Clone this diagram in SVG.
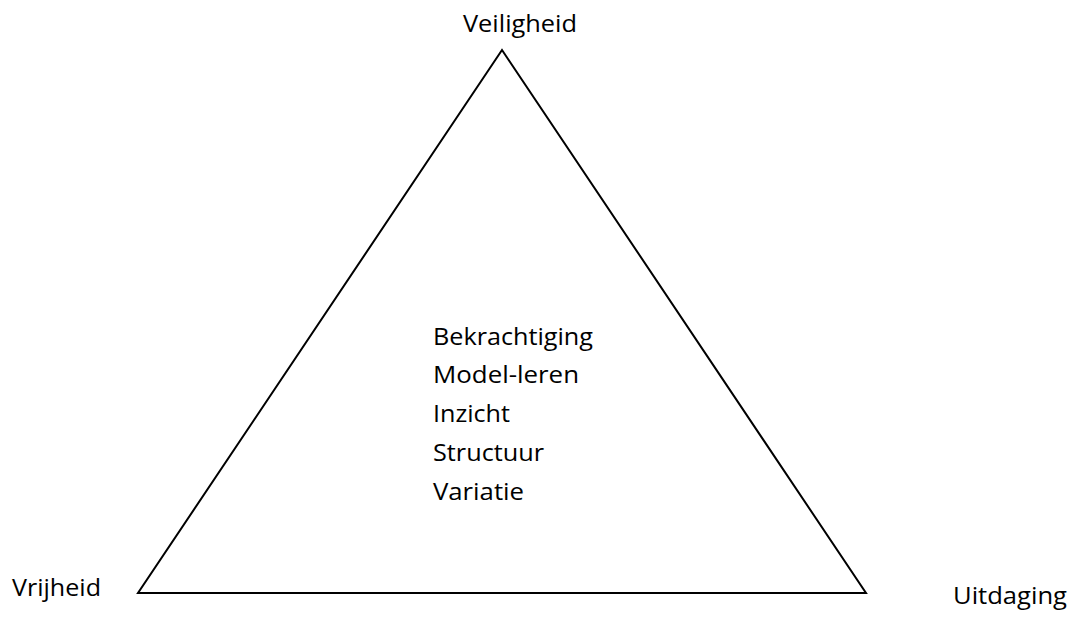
<svg xmlns="http://www.w3.org/2000/svg" width="1072" height="617" viewBox="0 0 1072 617">
<style>
text{font-family:"Open Sans","Liberation Sans",sans-serif;font-size:24.5px;fill:#000}
.tri{fill:none;stroke:#000;stroke-width:2;stroke-linejoin:miter}
</style>
<rect width="1072" height="617" fill="#fff"/>
<g id="triangle">
<polygon class="tri" points="502,50 138,593 866,593"/>
</g>
<g id="node-veiligheid"><text x="463" y="32" textLength="114" lengthAdjust="spacingAndGlyphs">Veiligheid</text></g>
<g id="node-vrijheid"><text x="12" y="596" textLength="89" lengthAdjust="spacingAndGlyphs">Vrijheid</text></g>
<g id="node-uitdaging"><text x="953" y="604" textLength="114" lengthAdjust="spacingAndGlyphs">Uitdaging</text></g>
<g id="node-center">
<text x="433" y="345" textLength="160" lengthAdjust="spacingAndGlyphs">Bekrachtiging</text>
<text x="433" y="383" textLength="146" lengthAdjust="spacingAndGlyphs">Model-leren</text>
<text x="433" y="422" textLength="77" lengthAdjust="spacingAndGlyphs">Inzicht</text>
<text x="433" y="461" textLength="111" lengthAdjust="spacingAndGlyphs">Structuur</text>
<text x="433" y="500" textLength="91" lengthAdjust="spacingAndGlyphs">Variatie</text>
</g>
<g id="connectors"></g>
</svg>
